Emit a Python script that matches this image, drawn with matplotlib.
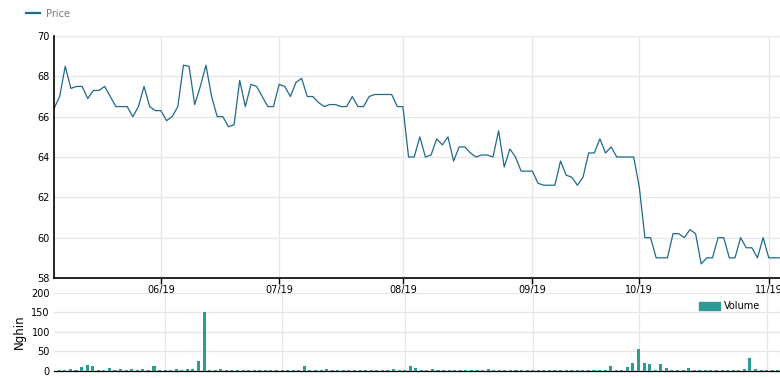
import matplotlib
matplotlib.use('Agg')
import matplotlib.pyplot as plt
import numpy as np
from matplotlib.lines import Line2D
from matplotlib.patches import Patch

# trading-day series
price = [66.4, 67.0, 68.5, 67.4, 67.5, 67.5, 66.9, 67.3, 67.3, 67.5,
         67.0, 66.5, 66.5, 66.5, 66.0, 66.5, 67.5, 66.5, 66.3, 66.3,
         65.8, 66.0, 66.5, 68.55, 68.5, 66.6, 67.5, 68.55, 67.0, 66.0,
         66.0, 65.5, 65.6, 67.8, 66.5, 67.6, 67.5, 67.0, 66.5, 66.5,
         67.6, 67.5, 67.0, 67.7, 67.9, 67.0, 67.0, 66.7, 66.5, 66.6,
         66.6, 66.5, 66.5, 67.0, 66.5, 66.5, 67.0, 67.1, 67.1, 67.1,
         67.1, 66.5, 66.5, 64.0, 64.0, 65.0, 64.0, 64.1, 64.9, 64.6,
         65.0, 63.8, 64.5, 64.5, 64.2, 64.0, 64.1, 64.1, 64.0, 65.3,
         63.5, 64.4, 64.0, 63.3, 63.3, 63.3, 62.7, 62.6, 62.6, 62.6,
         63.8, 63.1, 63.0, 62.6, 63.0, 64.2, 64.2, 64.9, 64.2, 64.5,
         64.0, 64.0, 64.0, 64.0, 62.5, 60.0, 60.0, 59.0, 59.0, 59.0,
         60.2, 60.2, 60.0, 60.4, 60.2, 58.7, 59.0, 59.0, 60.0, 60.0,
         59.0, 59.0, 60.0, 59.5, 59.5, 59.0, 60.0, 59.0, 59.0, 59.0]

volume = [3, 3, 5, 3, 9, 14, 12, 3, 3, 7,
          3, 5, 3, 5, 3, 5, 3, 12, 3, 3,
          3, 5, 3, 5, 5, 25, 150, 3, 3, 5,
          3, 3, 3, 3, 3, 3, 3, 3, 3, 3,
          3, 3, 3, 3, 12, 3, 3, 3, 5, 3,
          3, 3, 3, 3, 3, 3, 3, 3, 3, 3,
          5, 3, 3, 13, 8, 3, 3, 5, 3, 3,
          3, 3, 3, 3, 3, 3, 3, 4, 3, 3,
          3, 3, 3, 3, 3, 3, 3, 3, 3, 3,
          3, 3, 3, 3, 3, 3, 3, 3, 3, 12,
          3, 3, 9, 20, 56, 20, 17, 3, 17, 7,
          3, 3, 3, 7, 3, 3, 3, 3, 3, 3,
          3, 3, 3, 5, 32, 5, 3, 3, 3, 3]

month_idx = [19, 40, 62, 85, 104, 127]
month_labels = ['06/19', '07/19', '08/19', '09/19', '10/19', '11/19']
price_ticks = [58, 60, 62, 64, 66, 68, 70]
vol_ticks = [0, 50, 100, 150, 200]

LINE = '#20698a'
BAR = '#2e9a96'
GRID = '#e6e6e6'

x = np.arange(len(price))

fig = plt.figure(figsize=(7.8, 3.78), dpi=100)

# price panel
ax1 = fig.add_axes([54 / 780, 1 - 278 / 378, 726 / 780, 242 / 378])
ax1.plot(x, price, color=LINE, lw=0.9)
ax1.set_xlim(0, len(price) - 1)
ax1.set_ylim(58, 70)
ax1.set_yticks(price_ticks)
ax1.set_xticks(month_idx)
ax1.set_xticklabels(month_labels)
ax1.grid(True, color=GRID, lw=0.9)
ax1.set_axisbelow(True)
for s in ['top', 'right']:
    ax1.spines[s].set_visible(False)
ax1.spines['left'].set_color('black')
ax1.spines['left'].set_linewidth(1.2)
ax1.spines['bottom'].set_color('black')
ax1.spines['bottom'].set_linewidth(1.2)
ax1.tick_params(axis='y', length=0, labelsize=7, pad=3)
ax1.tick_params(axis='x', length=4, width=1, direction='out', labelsize=7, pad=1)

# volume panel
ax2 = fig.add_axes([54 / 780, 1 - 370.7 / 378, 726 / 780, 78 / 378])
ax2.bar(x, volume, width=0.55, color=BAR, zorder=3)
ax2.set_xlim(-0.95, 129.4)
ax2.set_ylim(0, 200)
ax2.set_yticks(vol_ticks)
ax2.set_xticks(month_idx)
ax2.set_xticklabels([])
ax2.grid(True, color=GRID, lw=0.9)
ax2.set_axisbelow(True)
for s in ['top', 'right', 'left']:
    ax2.spines[s].set_visible(False)
ax2.spines['bottom'].set_color('black')
ax2.spines['bottom'].set_linewidth(0.9)
ax2.spines['bottom'].set_zorder(2)
ax2.tick_params(axis='y', length=0, labelsize=7, pad=3)
ax2.tick_params(axis='x', length=0)
ax2.set_ylabel('Nghin', fontsize=8.5, labelpad=4)

# legends
fig.legend(handles=[Line2D([], [], color=LINE, lw=1.6)], labels=['Price'],
           loc='upper left', bbox_to_anchor=(0.022, 1.0), frameon=False,
           fontsize=7, handlelength=1.5, handletextpad=0.6, labelcolor='#777777')
ax2.legend(handles=[Patch(color=BAR)], labels=['Volume'], loc='upper right',
           bbox_to_anchor=(0.985, 1.0), frameon=False, fontsize=7,
           handlelength=2.2, handleheight=0.9, handletextpad=0.4)

fig.savefig('out.png', dpi=100)
